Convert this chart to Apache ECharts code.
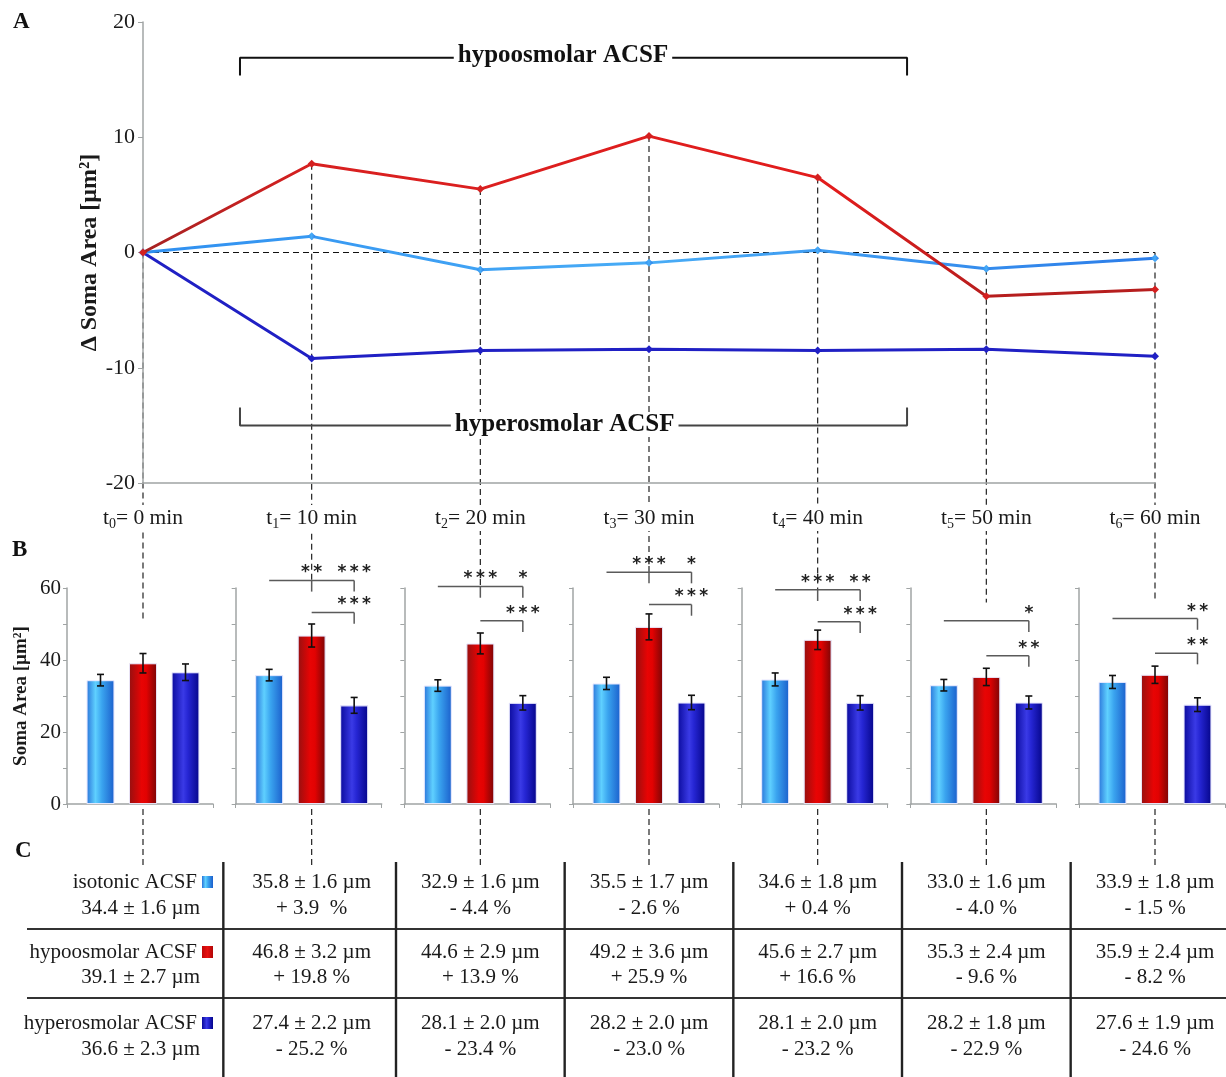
<!DOCTYPE html>
<html><head><meta charset="utf-8">
<script src="https://cdn.jsdelivr.net/npm/echarts@6/dist/echarts.min.js"></script>
<style>html,body{margin:0;padding:0;background:#fff}#c{width:1226px;height:1077px}</style>
</head><body><div id="c"></div>
<script>
// ---------- DATA ----------
const timeMinutes = ['0', '10', '20', '30', '40', '50', '60'];
const groupNames = ['isotonic ACSF', 'hypoosmolar ACSF', 'hyperosmolar ACSF'];
const axisTitleA = 'Δ Soma Area [µm²]';
const axisTitleB = 'Soma Area [µm²]';
// Panel A: change in soma area (µm²) relative to t0
const deltaIso   = [0, 1.4, -1.5, -0.9, 0.2, -1.4, -0.5];
const deltaHypo  = [0, 7.7, 5.5, 10.1, 6.5, -3.8, -3.2];
const deltaHyper = [0, -9.2, -8.5, -8.4, -8.5, -8.4, -9.0];
// Panel B: soma area mean ± SEM
const isoMean   = [34.4, 35.8, 32.9, 33.5, 34.6, 33.0, 33.9];
const isoSem    = [1.6, 1.6, 1.6, 1.7, 1.8, 1.6, 1.8];
const hypoMean  = [39.1, 46.8, 44.6, 49.2, 45.6, 35.3, 35.9];
const hypoSem   = [2.7, 3.2, 2.9, 3.6, 2.7, 2.4, 2.4];
const hyperMean = [36.6, 27.4, 28.1, 28.2, 28.1, 28.2, 27.6];
const hyperSem  = [2.3, 2.2, 2.0, 2.0, 2.0, 1.8, 1.9];
// significance marks
const sigIsoHypo   = ['', '**', '***', '***', '***', '', ''];
const sigIsoHyper  = ['', '***', '*', '*', '**', '*', '**'];
const sigHypoHyper = ['', '***', '***', '***', '***', '**', '**'];
// Panel C: printed table values
const isoPrinted   = ['34.4', '35.8', '32.9', '35.5', '34.6', '33.0', '33.9'];
const isoChange    = ['', '+ 3.9  %', '- 4.4 %', '- 2.6 %', '+ 0.4 %', '- 4.0 %', '- 1.5 %'];
const hypoChange   = ['', '+ 19.8 %', '+ 13.9 %', '+ 25.9 %', '+ 16.6 %', '- 9.6 %', '- 8.2 %'];
const hyperChange  = ['', '- 25.2 %', '- 23.4 %', '- 23.0 %', '- 23.2 %', '- 22.9 %', '- 24.6 %'];
const yTicksA = [-20, -10, 0, 10, 20];
const yTicksB = [0, 20, 40, 60];

// ---------- LAYOUT / STYLE ----------
const SERIF = 'Liberation Serif';
const TXT = '#1a1a1a';
const AX = '#a0a4a4';
const gA = {left: 143, top: 22, width: 1012, height: 461};
const tX = i => gA.left + i * gA.width / 6;
const gB = {top: 588, height: 216, width: 146, offL: 76, pxPerUnit: 42.5};
const sigTop = [null, 62.1, 60.4, 64.4, 59.5, 50.9, 51.5];
const sigLow = [null, 53.2, 50.9, 55.4, 50.6, 41.2, 41.9];
const sigTick = 3.1;
const dashStopB = [51, null, null, null, null, 56, 56];

const grad = (stops) => new echarts.graphic.LinearGradient(0, 0, 1, 0, stops.map((c, k) => ({offset: c[0], color: c[1]})));
const fillIso = () => grad([[0, '#2a74da'], [0.32, '#5fd0ff'], [0.55, '#3aa4ef'], [1, '#1b5fcc']]);
const fillHypo = () => grad([[0, '#951010'], [0.45, '#e80404'], [0.62, '#e20202'], [1, '#7a0606']]);
const fillHyper = () => grad([[0, '#0a0a9c'], [0.42, '#3a3ae6'], [0.58, '#2626d4'], [1, '#05058a']]);

const chart = echarts.init(document.getElementById('c'), null, {renderer: 'canvas'});

const grids = [{left: gA.left, top: gA.top, width: gA.width, height: gA.height}];
const xAxes = [{
  type: 'value', gridIndex: 0, min: 0, max: 6, interval: 1, z: 5,
  axisLine: {onZero: false, lineStyle: {color: AX, width: 1.5}},
  axisTick: {show: false}, splitLine: {show: false},
  axisLabel: {
    margin: 22, backgroundColor: '#fff', padding: [0, 2],
    formatter: v => `{t|t}{s|${Math.round(v)}}{t|= ${timeMinutes[Math.round(v)]} min}`,
    rich: {
      t: {fontSize: 21.5, fontFamily: SERIF, color: TXT, lineHeight: 26},
      s: {fontSize: 14, fontFamily: SERIF, color: TXT, lineHeight: 12, verticalAlign: 'bottom'}
    }
  }
}];
const yAxes = [{
  type: 'value', gridIndex: 0, min: yTicksA[0], max: yTicksA[yTicksA.length - 1], interval: 10,
  axisLine: {show: true, lineStyle: {color: AX, width: 1.5}},
  axisTick: {show: true, length: 5, lineStyle: {color: AX}},
  splitLine: {show: false},
  axisLabel: {fontSize: 22, fontFamily: SERIF, color: TXT, margin: 8}
}];

const lineSeries = (name, data, color, z) => ({
  type: 'line', name, xAxisIndex: 0, yAxisIndex: 0, z,
  data: data.map((v, i) => [i, v]),
  symbol: 'diamond', symbolSize: 8, showSymbol: true,
  lineStyle: {width: 3, color}, itemStyle: {color}
});

const series = [
  // zero reference
  {type: 'line', xAxisIndex: 0, yAxisIndex: 0, data: [[0, 0], [6, 0]], symbol: 'none', silent: true, z: 1,
   lineStyle: {color: '#111', width: 1.2, type: [6, 4]}},
  lineSeries('hyperosmolar', deltaHyper, '#2020c4', 3),
  lineSeries('isotonic', deltaIso, new echarts.graphic.LinearGradient(0, 0, 1, 0, [
    {offset: 0, color: '#2f8ff0'}, {offset: 0.5, color: '#48acf6'}, {offset: 1, color: '#2b7ce8'}]), 4),
  Object.assign(lineSeries('hypoosmolar', deltaHypo, new echarts.graphic.LinearGradient(0, 0, 1, 0, [
    {offset: 0, color: '#a52222'}, {offset: 0.17, color: '#d82020'}, {offset: 0.68, color: '#e21c1c'},
    {offset: 0.84, color: '#b61e1e'}, {offset: 1, color: '#b61e1e'}]), 5), {itemStyle: {color: '#d42020'}}),
  // treatment brackets
  {type: 'line', xAxisIndex: 0, yAxisIndex: 0, symbol: 'none', silent: true, z: 2,
   data: [[0.575, 15.35], [0.575, 16.9], [4.53, 16.9], [4.53, 15.35]], lineStyle: {color: '#111', width: 2}},
  {type: 'line', xAxisIndex: 0, yAxisIndex: 0, symbol: 'none', silent: true, z: 2,
   data: [[0.575, -13.45], [0.575, -15.0], [4.53, -15.0], [4.53, -13.45]], lineStyle: {color: '#444', width: 2}}
];

const spaced = s => s.split('').join('\u2009');

for (let i = 0; i < 7; i++) {
  const gi = i + 1;
  const xmin = 2 - gB.offL / gB.pxPerUnit, xmax = xmin + gB.width / gB.pxPerUnit;
  grids.push({left: tX(i) - gB.offL, top: gB.top, width: gB.width, height: gB.height});
  xAxes.push({
    type: 'value', gridIndex: gi, min: xmin, max: xmax,
    axisLine: {onZero: false, lineStyle: {color: AX, width: 1.5}},
    axisTick: {show: true, customValues: [xmin, xmax], length: 4, lineStyle: {color: AX}},
    axisLabel: {show: false}, splitLine: {show: false}
  });
  yAxes.push({
    type: 'value', gridIndex: gi, min: yTicksB[0], max: yTicksB[yTicksB.length - 1], interval: 10,
    axisLine: {show: true, lineStyle: {color: AX, width: 1.5}},
    axisTick: {show: true, length: 4, lineStyle: {color: AX}},
    splitLine: {show: false},
    axisLabel: {show: i === 0, fontSize: 21, fontFamily: SERIF, color: TXT, margin: 6,
      formatter: v => (yTicksB.indexOf(v) >= 0 ? String(v) : '')}
  });
  series.push({
    type: 'bar', xAxisIndex: gi, yAxisIndex: gi, barWidth: 28, z: 2,
    data: [
      {value: [1, isoMean[i]], itemStyle: {color: fillIso()}},
      {value: [2, hypoMean[i]], itemStyle: {color: fillHypo()}},
      {value: [3, hyperMean[i]], itemStyle: {color: fillHyper()}}
    ],
    itemStyle: {borderColor: 'rgba(235,235,255,0.7)', borderWidth: 1}
  });
  series.push({
    type: 'custom', xAxisIndex: gi, yAxisIndex: gi, z: 4, silent: true,
    data: [[1, isoMean[i], isoSem[i]], [2, hypoMean[i], hypoSem[i]], [3, hyperMean[i], hyperSem[i]]],
    encode: {x: 0, y: 1},
    renderItem: (params, api) => {
      const x = api.value(0), m = api.value(1), s = api.value(2);
      const a = api.coord([x, m + s]), b = api.coord([x, m - s]);
      const st = {stroke: '#111', lineWidth: 1.6};
      return {type: 'group', children: [
        {type: 'line', shape: {x1: a[0], y1: a[1], x2: b[0], y2: b[1]}, style: st},
        {type: 'line', shape: {x1: a[0] - 3.5, y1: a[1], x2: a[0] + 3.5, y2: a[1]}, style: st},
        {type: 'line', shape: {x1: b[0] - 3.5, y1: b[1], x2: b[0] + 3.5, y2: b[1]}, style: st}
      ]};
    }
  });
  if (sigTop[i] != null) {
    series.push({
      type: 'custom', xAxisIndex: gi, yAxisIndex: gi, z: 4, silent: true, clip: false,
      data: [[2, 0]], encode: {x: 0, y: 1},
      renderItem: (params, api) => {
        const ch = [];
        const ls = {stroke: '#5a5a5a', lineWidth: 1.5};
        const L = (p, q) => { const a = api.coord(p), b = api.coord(q);
          ch.push({type: 'line', shape: {x1: a[0], y1: a[1], x2: b[0], y2: b[1]}, style: ls}); };
        const T = (x, y, t) => { const a = api.coord([x, y]);
          ch.push({type: 'text', style: {text: spaced(t), x: a[0], y: a[1] + 1, align: 'center', verticalAlign: 'bottom',
            fontSize: 17, fontFamily: 'DejaVu Sans', fontWeight: 'bold', fill: '#222'}}); };
        const top = sigTop[i], low = sigLow[i];
        L([1, top], [3, top]); L([3, top], [3, top - sigTick]);
        if (sigIsoHypo[i]) { L([2, top], [2, top - sigTick]); T(2, top, sigIsoHypo[i]); }
        T(3, top, sigIsoHyper[i]);
        L([2, low], [3, low]); L([3, low], [3, low - sigTick]);
        T(3, low, sigHypoHyper[i]);
        return {type: 'group', children: ch};
      }
    });
  }
}

chart.setOption({
  animation: false,
  backgroundColor: '#fff',
  grid: grids, xAxis: xAxes, yAxis: yAxes, series
});

// ---------- overlays: dashed guides, labels, table ----------
const G = [];
const px = (gi, p) => chart.convertToPixel({xAxisIndex: gi, yAxisIndex: gi}, p);
const dashStyle = {stroke: '#222', lineWidth: 1.2, lineDash: [6, 4]};
const tableTop = 862, tableBottom = 1077, tableLineY = [929, 998];
const bBottom = px(1, [2, 0])[1];
for (let i = 0; i < 7; i++) {
  let topVal = Math.max(deltaIso[i], deltaHypo[i], deltaHyper[i]);
  if (i === 6) topVal = Math.max(topVal, 0);
  const p0 = px(0, [i, topVal]);
  const stopVal = dashStopB[i] != null ? dashStopB[i] : sigTop[i];
  const pB = px(i + 1, [2, stopVal]);
  G.push({type: 'line', z: 0, silent: true, shape: {x1: p0[0], y1: p0[1], x2: p0[0], y2: pB[1]}, style: dashStyle});
  G.push({type: 'line', z: 0, silent: true, shape: {x1: p0[0], y1: bBottom + 5, x2: p0[0], y2: tableTop + 4}, style: dashStyle});
}
// axis titles (rotated)
G.push({type: 'text', z: 20, x: 90, y: gA.top + gA.height / 2, rotation: Math.PI / 2,
  style: {text: axisTitleA, fontSize: 24, fontFamily: SERIF, fontWeight: 'bold', fill: TXT, align: 'center', verticalAlign: 'middle'}});
G.push({type: 'text', z: 20, x: 21, y: gB.top + gB.height / 2, rotation: Math.PI / 2,
  style: {text: axisTitleB, fontSize: 19, fontFamily: SERIF, fontWeight: 'bold', fill: TXT, align: 'center', verticalAlign: 'middle'}});
// bracket captions in A
const capStyle = {fontSize: 25, fontFamily: SERIF, fontWeight: 'bold', fill: '#111', align: 'center', verticalAlign: 'middle',
  backgroundColor: '#fff', padding: [0, 4]};
const c1 = px(0, [2.49, 16.9]), c2 = px(0, [2.5, -15.0]);
G.push({type: 'text', z: 20, style: Object.assign({text: groupNames[1], x: c1[0], y: c1[1] - 2}, capStyle)});
G.push({type: 'text', z: 20, style: Object.assign({text: groupNames[2], x: c2[0], y: c2[1] - 1}, capStyle)});
// panel letters
[['A', 13, 22], ['B', 12, 550], ['C', 15, 851]].forEach(([t, x, y]) =>
  G.push({type: 'text', z: 20, style: {text: t, x, y, fontSize: 23, fontFamily: SERIF, fontWeight: 'bold', fill: '#111', verticalAlign: 'middle'}}));
// table lines
tableLineY.forEach(y => G.push({type: 'line', z: 5, shape: {x1: 27, y1: y, x2: 1226, y2: y}, style: {stroke: '#333', lineWidth: 2.2}}));
for (let i = 0; i < 6; i++) {
  const x = (tX(i) + tX(i + 1)) / 2 - (i === 0 ? 4 : 0);
  G.push({type: 'line', z: 5, shape: {x1: x, y1: tableTop, x2: x, y2: tableBottom}, style: {stroke: '#222', lineWidth: 2.4}});
}
const rowY = [[882, 908], [952, 977], [1023, 1049]];
const means = [isoPrinted, hypoMean.map(v => v.toFixed(1)), hyperMean.map(v => v.toFixed(1))];
const sems = [isoSem, hypoSem, hyperSem];
const changes = [isoChange, hypoChange, hyperChange];
const squareFill = [fillIso, () => grad([[0, '#c00808'], [0.5, '#e81010'], [1, '#b00606']]), fillHyper];
const tStyle = {fontSize: 21, fontFamily: SERIF, fill: TXT, verticalAlign: 'middle'};
for (let r = 0; r < 3; r++) {
  const [y1, y2] = rowY[r];
  G.push({type: 'text', z: 10, style: Object.assign({text: groupNames[r], x: 197, y: y1, align: 'right'}, tStyle)});
  G.push({type: 'rect', z: 10, shape: {x: 202, y: y1 - 6, width: 11, height: 12}, style: {fill: squareFill[r]()}});
  G.push({type: 'text', z: 10, style: Object.assign({text: `${means[r][0]} ± ${sems[r][0].toFixed(1)} µm`, x: 200, y: y2, align: 'right'}, tStyle)});
  for (let i = 1; i < 7; i++) {
    const x = tX(i);
    G.push({type: 'text', z: 10, style: Object.assign({text: `${means[r][i]} ± ${sems[r][i].toFixed(1)} µm`, x, y: y1, align: 'center'}, tStyle)});
    G.push({type: 'text', z: 10, style: Object.assign({text: changes[r][i], x, y: y2, align: 'center'}, tStyle)});
  }
}
chart.setOption({graphic: G});
</script>
</body></html>
